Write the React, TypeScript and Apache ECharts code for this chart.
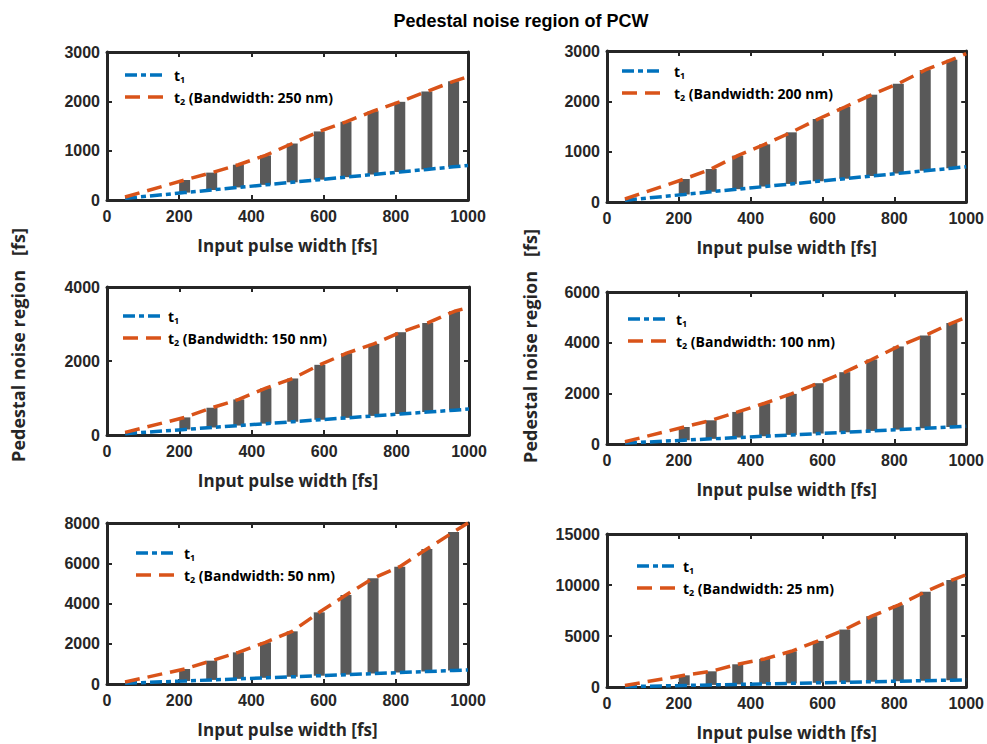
import React, { useEffect, useRef } from "react";
import * as echarts from "echarts";

// ---------- data ----------
const TITLE = "Pedestal noise region of PCW";
const X_NAME = "Input pulse width [fs]";
const Y_NAME = "Pedestal noise region\u00a0\u00a0\u00a0[fs]";
const BANDWIDTHS = ["250 nm", "200 nm", "150 nm", "100 nm", "50 nm", "25 nm"];

const X_MIN = 0;
const X_MAX = 1000;
const X_INTERVAL = 200;
const Y_MAX = [3000, 3000, 4000, 6000, 8000, 15000];
const Y_INTERVAL = [1000, 1000, 2000, 2000, 2000, 5000];

// pulse widths where the lines are sampled (inner points also carry the bars)
const PULSE_X = [50, 215, 290, 364, 439, 513, 588, 662, 737, 811, 886, 960, 1000];

// t1 (same for every bandwidth)
const T1 = [35, 150, 203, 255, 307, 359, 412, 463, 516, 568, 620, 672, 700];

// t2 for each bandwidth
const T2_250 = [60, 405, 555, 715, 905, 1145, 1390, 1585, 1800, 1990, 2200, 2405, 2500];
const T2_200 = [60, 457, 656, 921, 1146, 1384, 1649, 1887, 2132, 2351, 2623, 2828, 2950];
const T2_150 = [70, 476, 737, 962, 1267, 1528, 1897, 2211, 2463, 2778, 3030, 3344, 3450];
const T2_100 = [90, 672, 936, 1266, 1609, 1978, 2400, 2835, 3336, 3851, 4286, 4774, 5000];
const T2_50 = [100, 745, 1159, 1573, 2070, 2617, 3561, 4422, 5251, 5830, 6708, 7553, 8000];
const T2_25 = [150, 1146, 1539, 2227, 2751, 3504, 4520, 5633, 6943, 8024, 9334, 10480, 11000];
const T2_ALL = [T2_250, T2_200, T2_150, T2_100, T2_50, T2_25];

// ---------- layout ----------
const GRIDS = [
  { left: 107, top: 52, width: 361, height: 148 },
  { left: 607, top: 51, width: 361, height: 151 },
  { left: 107, top: 287, width: 362, height: 148 },
  { left: 607, top: 292, width: 361, height: 152 },
  { left: 107, top: 523, width: 361, height: 161 },
  { left: 607, top: 534, width: 361, height: 153 },
];
const LEGEND_POS = [
  { x: 125, y: 75, tx: 174 },
  { x: 622, y: 71, tx: 674 },
  { x: 123, y: 316, tx: 168 },
  { x: 628, y: 319, tx: 676 },
  { x: 136, y: 553, tx: 184 },
  { x: 637, y: 566, tx: 683 },
];

const BLUE = "#0072BD";
const ORANGE = "#D95319";
const BAR = "#595959";
const INK = "#262626";
const DASHDOT = [12, 4, 5, 4];
const DASHED = [15, 8];
const TICK_FONT = "Liberation Sans, Arial, sans-serif";
const TEXT_FONT = "Open Sans, sans-serif";

function buildOption() {
  const grid: any[] = [];
  const xAxis: any[] = [];
  const yAxis: any[] = [];
  const series: any[] = [];
  const graphic: any[] = [];

  const axisLine = { show: true, onZero: false, lineStyle: { color: INK, width: 3 } };
  const axisTick = { show: true, inside: true, length: 5, lineStyle: { color: INK, width: 2 } };
  const labelStyle = {
    fontFamily: TICK_FONT, fontWeight: "bold", fontSize: 16, color: INK,
    formatter: (v: number) => String(v),
  };

  GRIDS.forEach((g, i) => {
    grid.push({ ...g, containLabel: false, show: false });
    // bottom x
    xAxis.push({
      gridIndex: i, type: "value", position: "bottom", min: X_MIN, max: X_MAX, interval: X_INTERVAL,
      axisLine, axisTick, splitLine: { show: false },
      axisLabel: { ...labelStyle, margin: 8 },
      name: X_NAME, nameLocation: "middle", nameGap: 37,
      nameTextStyle: { fontFamily: TEXT_FONT, fontWeight: "bold", fontSize: 17, color: INK },
    });
    // top x (box + ticks)
    xAxis.push({
      gridIndex: i, type: "value", position: "top", min: X_MIN, max: X_MAX, interval: X_INTERVAL,
      axisLine, axisTick, splitLine: { show: false }, axisLabel: { show: false },
    });
    // left y
    yAxis.push({
      gridIndex: i, type: "value", position: "left", min: 0, max: Y_MAX[i], interval: Y_INTERVAL[i],
      axisLine, axisTick, splitLine: { show: false },
      axisLabel: { ...labelStyle, margin: 7 },
    });
    // right y
    yAxis.push({
      gridIndex: i, type: "value", position: "right", min: 0, max: Y_MAX[i], interval: Y_INTERVAL[i],
      axisLine, axisTick, splitLine: { show: false }, axisLabel: { show: false },
    });

    const t2 = T2_ALL[i];
    const barData = PULSE_X.slice(1, -1).map((x, k) => [x, T1[k + 1], t2[k + 1]]);
    series.push({
      type: "custom",
      xAxisIndex: 2 * i,
      yAxisIndex: 2 * i,
      z: 1,
      encode: { x: 0, y: [1, 2] },
      data: barData,
      renderItem: (_p: any, api: any) => {
        const x = api.value(0);
        const lo = api.value(1);
        const hi = api.value(2);
        const top = api.coord([x, hi]);
        const bot = api.coord([x, lo]);
        const w = 11;
        return {
          type: "rect",
          shape: { x: top[0] - w / 2, y: top[1], width: w, height: bot[1] - top[1] },
          style: { fill: BAR },
        };
      },
    });
    series.push({
      type: "line",
      name: "t1",
      xAxisIndex: 2 * i,
      yAxisIndex: 2 * i,
      z: 3,
      symbol: "none",
      showSymbol: false,
      data: PULSE_X.map((x, k) => [x, T1[k]]),
      lineStyle: { color: BLUE, width: 3.5, type: DASHDOT },
    });
    series.push({
      type: "line",
      name: "t2",
      xAxisIndex: 2 * i,
      yAxisIndex: 2 * i,
      z: 4,
      symbol: "none",
      showSymbol: false,
      data: PULSE_X.map((x, k) => [x, t2[k]]),
      lineStyle: { color: ORANGE, width: 3.5, type: DASHED },
    });

    // legend
    const L = LEGEND_POS[i];
    const rich = {
      m: { fontFamily: TEXT_FONT, fontWeight: "bold", fontSize: 14, color: INK, lineHeight: 18 },
      s: { fontFamily: TEXT_FONT, fontWeight: "bold", fontSize: 9, color: INK, lineHeight: 9, verticalAlign: "bottom" },
    };
    graphic.push({
      type: "line", z: 10,
      shape: { x1: L.x, y1: L.y, x2: L.x + 38, y2: L.y },
      style: { stroke: BLUE, lineWidth: 3.5, lineDash: DASHDOT },
    });
    graphic.push({
      type: "line", z: 10,
      shape: { x1: L.x, y1: L.y + 22, x2: L.x + 38, y2: L.y + 22 },
      style: { stroke: ORANGE, lineWidth: 3.5, lineDash: DASHED },
    });
    graphic.push({
      type: "text", z: 10, x: L.tx, y: L.y,
      style: { text: "{m|t}{s|1}", rich, verticalAlign: "middle", align: "left" },
    });
    graphic.push({
      type: "text", z: 10, x: L.tx, y: L.y + 22,
      style: { text: "{m|t}{s|2}{m| (Bandwidth: " + BANDWIDTHS[i] + ")}", rich, verticalAlign: "middle", align: "left" },
    });
  });

  graphic.push({
    type: "text", x: 521, y: 21,
    style: { text: TITLE, font: "bold 18px Liberation Sans, Arial, sans-serif", fill: "#000", align: "center", verticalAlign: "middle" },
  });
  graphic.push({
    type: "text", x: 18, y: 345, rotation: Math.PI / 2,
    style: { text: Y_NAME, font: "bold 18px Open Sans, sans-serif", fill: INK, align: "center", verticalAlign: "middle" },
  });
  graphic.push({
    type: "text", x: 530, y: 346, rotation: Math.PI / 2,
    style: { text: Y_NAME, font: "bold 18px Open Sans, sans-serif", fill: INK, align: "center", verticalAlign: "middle" },
  });

  return {
    animation: false,
    backgroundColor: "#ffffff",
    grid,
    xAxis,
    yAxis,
    series,
    graphic,
  };
}

export default function App() {
  const ref = useRef<HTMLDivElement>(null);
  useEffect(() => {
    if (!ref.current) return;
    const chart = echarts.init(ref.current, undefined, { renderer: "svg" });
    chart.setOption(buildOption() as any);
    return () => chart.dispose();
  }, []);
  return (
    <div
      ref={ref}
      style={{ position: "fixed", left: 0, top: 0, width: 987, height: 744, background: "#fff" }}
    />
  );
}
